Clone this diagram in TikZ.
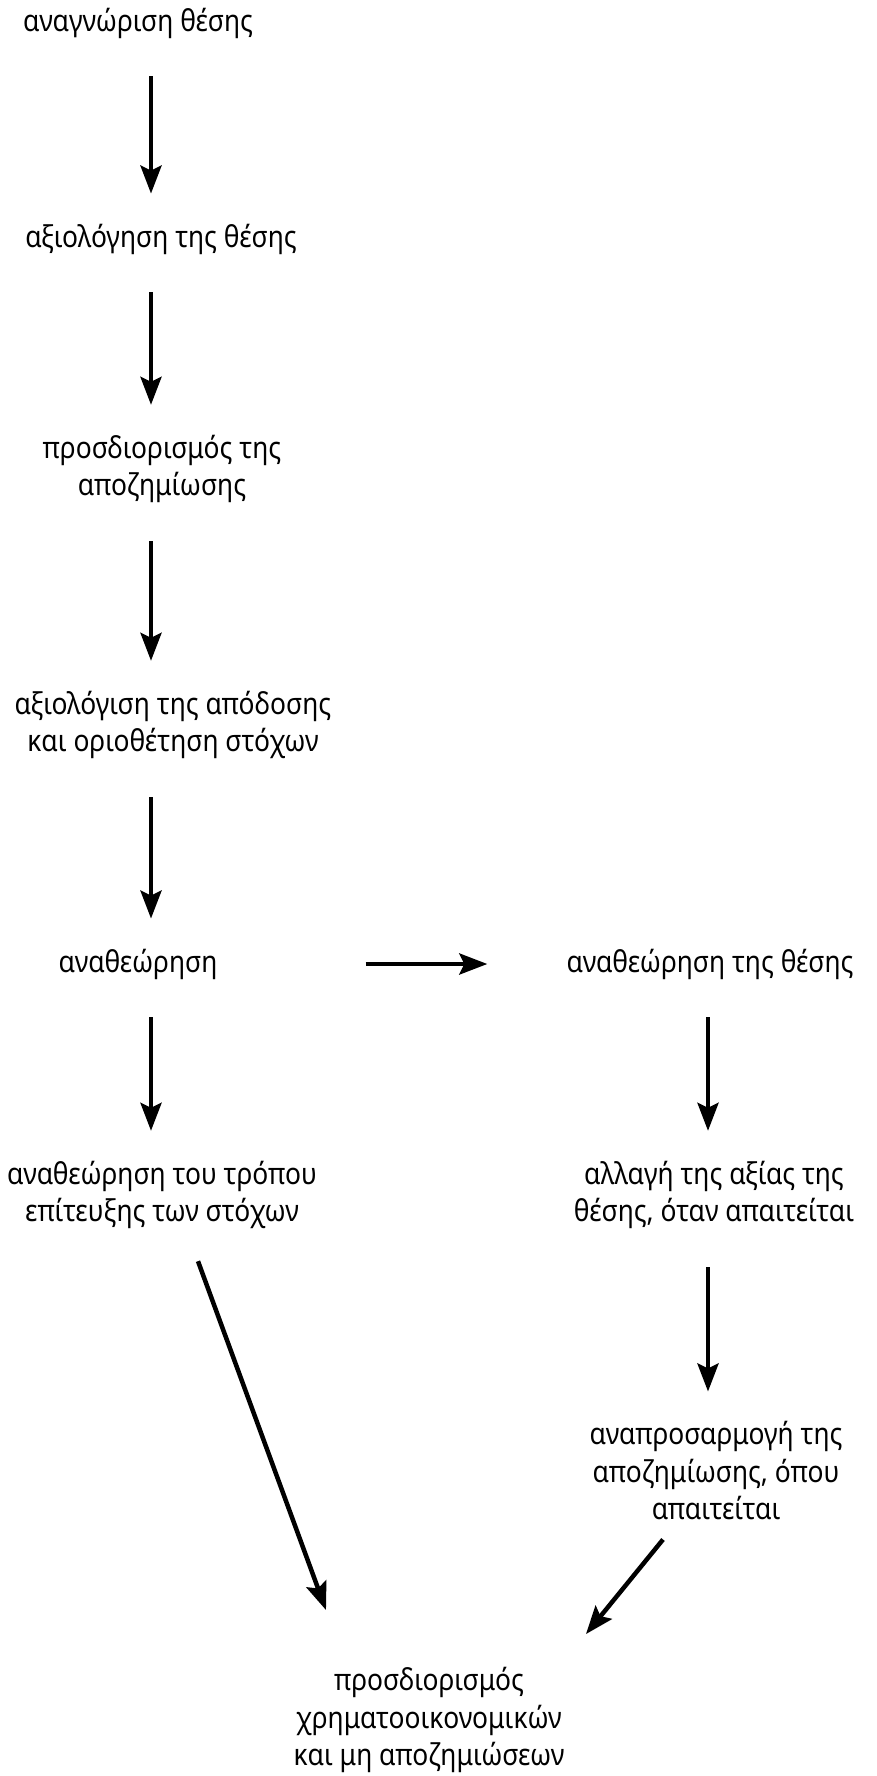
\documentclass[tikz,border=0pt]{standalone}
\usepackage{fontspec}
\setmainfont[FakeStretch=0.88]{Noto Sans}
\usetikzlibrary{arrows.meta}

\begin{document}
\begin{tikzpicture}[x=1pt,y=-1pt]
\tikzstyle{every node}=[align=center,inner sep=0pt,font=\fontsize{30}{37.5}\selectfont]
\tikzstyle{flow}=[-{Stealth[length=28pt,width=21pt,inset=5pt]},line width=4.5pt,shorten <=38pt,shorten >=30pt]
\useasboundingbox (0,0) rectangle (877,1776);
\coordinate (lcol) at (151,0);
\coordinate (rcol) at (708,0);
\path
 (138,23)   node (s0) {αναγνώριση θέσης}
 (161,239)  node (s1) {αξιολόγηση της θέσης}
 (162,469)  node (s2) {προσδιορισμός της\\αποζημίωσης}
 (173,725)  node (s3) {αξιολόγιση της απόδοσης\\και οριοθέτηση στόχων}
 (138,964)  node (s4) {αναθεώρηση}
 (710,964)  node (s5) {αναθεώρηση της θέσης}
 (162,1195) node (s6) {αναθεώρηση του τρόπου\\επίτευξης των στόχων}
 (714,1195) node (s7) {αλλαγή της αξίας της\\θέσης, όταν απαιτείται}
 (716,1471) node (s8) {αναπροσαρμογή της\\αποζημίωσης, όπου\\απαιτείται}
 (429,1720) node (s9) {προσδιορισμός\\χρηματοοικονομικών\\και μη αποζημιώσεων}
 ;
\path[flow]
(s0.south -| lcol) edge (s1.north -| lcol)
(s1.south -| lcol) edge (s2.north -| lcol)
(s2.south -| lcol) edge (s3.north -| lcol)
(s3.south -| lcol) edge (s4.north -| lcol)
(s4.south -| lcol) edge (s6.north -| lcol)
(s4.east) edge[shorten <=148pt,shorten >=79pt] (s5.west)
(s5.south -| rcol) edge (s7.north -| rcol)
(s7.south -| rcol) edge (s8.north -| rcol)
([shift={(36,32)}]s6.south) edge[shorten <=0pt,shorten >=0pt] ([shift={(-103,-57)}]s9.north)
([shift={(-53,19)}]s8.south) edge[shorten <=0pt,shorten >=0pt] ([shift={(157,-33)}]s9.north)
;
\end{tikzpicture}
\end{document}
